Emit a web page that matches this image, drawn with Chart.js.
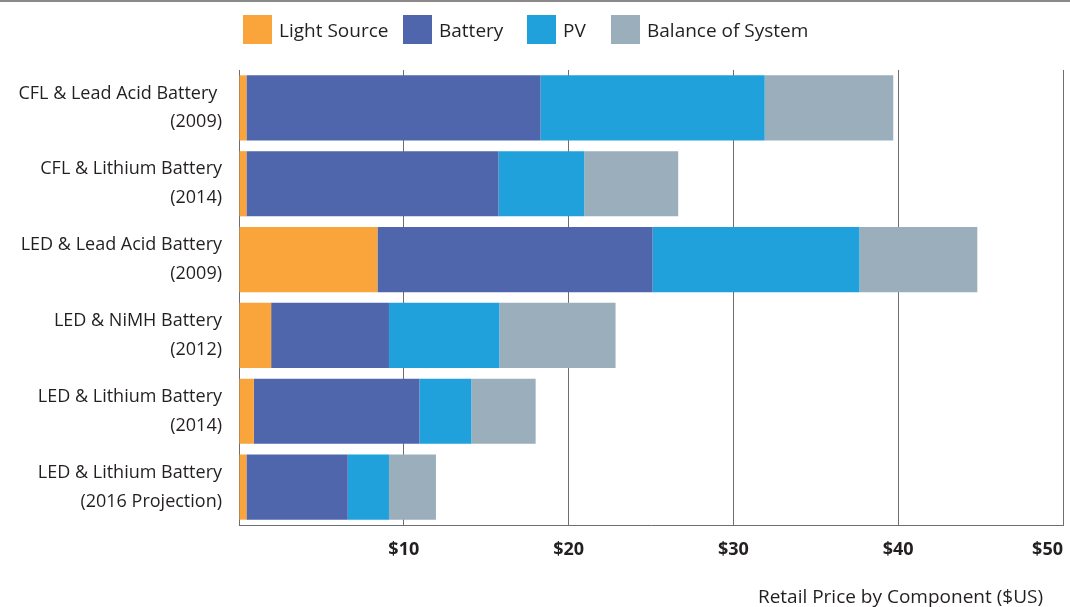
<!DOCTYPE html>
<html>
<head>
<meta charset="utf-8">
<script src="https://cdn.jsdelivr.net/npm/chart.js@4.4.1/dist/chart.umd.min.js"></script>
<style>
  body { margin: 0; background: #fff; font-family: "Open Sans", sans-serif; color: #231f20; }
  #wrap { position: relative; width: 1070px; height: 607px; overflow: hidden; }
  #topRule { position: absolute; left: 0; top: 0; width: 1070px; height: 2px; background: #8a8a8a; }
  #legenda { position: absolute; left: 0; top: 15px; width: 1070px; height: 29px; font-size: 19px; }
  #legenda .item { position: absolute; top: 0; display: flex; align-items: center; height: 29px; white-space: nowrap; }
  #legenda .caixa { width: 29px; height: 29px; margin-right: 7px; }
  #tituloEixo { position: absolute; right: 27px; top: 587px; font-size: 19px; line-height: 19px; white-space: nowrap; }
  canvas { position: absolute; left: 0; top: 0; }
</style>
</head>
<body>
<div id="wrap">
  <canvas id="grafico" width="1070" height="607"></canvas>
  <div id="topRule"></div>
  <div id="legenda"></div>
  <div id="tituloEixo">Retail Price by Component ($US)</div>
</div>
<script>
const categorias = [
  ["CFL & Lead Acid Battery ", "(2009)"],
  ["CFL & Lithium Battery", "(2014)"],
  ["LED & Lead Acid Battery", "(2009)"],
  ["LED & NiMH Battery", "(2012)"],
  ["LED & Lithium Battery", "(2014)"],
  ["LED & Lithium Battery", "(2016 Projection)"]
];

const fonteLuz = [0.45, 0.45, 8.4, 1.95, 0.9, 0.45];
const bateria = [17.85, 15.3, 16.7, 7.15, 10.05, 6.15];
const pv = [13.6, 5.2, 12.55, 6.7, 3.15, 2.5];
const balanco = [7.8, 5.7, 7.15, 7.05, 3.9, 2.85];

const nomesSeries = ["Light Source", "Battery", "PV", "Balance of System"];
const cores = ["#f9a53b", "#4f66ad", "#21a1dc", "#9aaebc"];

const ticksX = [0, 10, 20, 30, 40, 50];

const corLinha = "#6d6e71";
const corTexto = "#231f20";

// onde cada item da legenda comeca (px)
const posLegenda = [243, 403, 527, 611];

let legenda = document.getElementById("legenda");
nomesSeries.forEach((nome, i) => {
  let item = document.createElement("div");
  item.className = "item";
  item.style.left = posLegenda[i] + "px";
  let caixa = document.createElement("span");
  caixa.className = "caixa";
  caixa.style.background = cores[i];
  let texto = document.createElement("span");
  texto.textContent = nome;
  item.appendChild(caixa);
  item.appendChild(texto);
  legenda.appendChild(item);
});

const valores = [fonteLuz, bateria, pv, balanco];

const ctx = document.getElementById("grafico").getContext("2d");
new Chart(ctx, {
  type: "bar",
  data: {
    labels: categorias,
    datasets: nomesSeries.map((nome, i) => ({
      label: nome,
      data: valores[i],
      backgroundColor: cores[i],
      borderWidth: 0,
      barPercentage: 0.86,
      categoryPercentage: 1
    }))
  },
  options: {
    indexAxis: "y",
    responsive: false,
    animation: false,
    layout: { autoPadding: false, padding: { top: 70, right: 7, bottom: 47, left: 0 } },
    plugins: {
      legend: { display: false },
      tooltip: { enabled: false }
    },
    scales: {
      x: {
        stacked: true,
        min: ticksX[0],
        max: ticksX[ticksX.length - 1],
        afterBuildTicks: s => { s.ticks = ticksX.map(v => ({ value: v })); },
        afterFit: s => {
          s.height = 35;
          s.paddingLeft = 0;
          s.paddingRight = 0;
        },
        grid: { color: corLinha, lineWidth: 1, drawTicks: false },
        border: { color: corLinha, width: 1 },
        ticks: {
          padding: 14,
          align: "inner",
          color: corTexto,
          font: { family: "Open Sans", size: 18, weight: "bold" },
          callback: v => v === 0 ? "" : "$" + v
        }
      },
      y: {
        stacked: true,
        afterFit: s => {
          s.width = 239;
          s.paddingTop = 0;
          s.paddingBottom = 0;
        },
        grid: { display: false, drawTicks: false },
        border: { color: corLinha, width: 1 },
        ticks: {
          padding: 17,
          color: corTexto,
          font: { family: "Open Sans", size: 18, lineHeight: 1.6 }
        }
      }
    }
  }
});
</script>
</body>
</html>
